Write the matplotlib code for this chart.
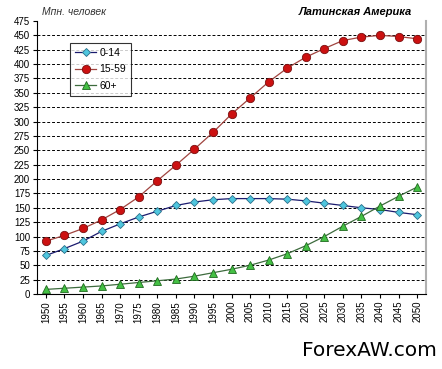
import numpy as np
import matplotlib.pyplot as plt

years = list(range(1950, 2051, 5))
kids = [67, 79, 92, 109, 122, 134, 144, 154, 160, 164, 166, 166, 166, 165, 162, 158, 154, 150, 147, 142, 138]
adults = [92, 102, 114, 129, 147, 169, 197, 224, 252, 281, 313, 341, 369, 393, 412, 427, 441, 447, 450, 448, 444]
elderly = [8, 10, 12, 14, 17, 20, 23, 26, 31, 37, 43, 50, 59, 70, 84, 100, 118, 135, 153, 170, 186]
yticks = list(range(0, 476, 25))

plt.rcParams['font.family'] = ['Liberation Sans', 'DejaVu Sans']
fig = plt.figure(figsize=(4.42, 3.69), dpi=100)
ax = fig.add_axes([37/442, 75/369, 389/442, 273/369])

ax.plot(years, kids, color='#1a1a6e', lw=0.9, marker='D', ms=4.5,
        mfc='#4fc6de', mec='#2a6f8a', mew=0.6, label='0-14')
ax.plot(years, adults, color='#a0443f', lw=0.9, marker='o', ms=6,
        mfc='#cc1111', mec='#7a1010', mew=0.6, label='15-59')
ax.plot(years, elderly, color='#3d6b3d', lw=0.9, marker='^', ms=5.5,
        mfc='#44c044', mec='#1f6a1f', mew=0.6, label='60+')

ax.set_xlim(1947.6, 2052.4)
ax.set_ylim(0, 475)
ax.set_yticks(yticks)
ax.set_xticks(years)
ax.set_xticklabels([str(y) for y in years], rotation=90)
ax.tick_params(labelsize=7, length=3, width=0.8, pad=2)
for y in yticks[1:-1]:
    ax.axhline(y, color='black', lw=0.7, ls=(0, (3, 2)), zorder=0)
ax.spines['top'].set_visible(False)
ax.spines['right'].set_color('#b0b0b0')
ax.spines['right'].set_linewidth(1.5)

leg = ax.legend(loc='upper left', bbox_to_anchor=(0.085, 0.92), fontsize=7.5,
                frameon=True, fancybox=False, handlelength=2.0,
                borderpad=0.5, labelspacing=0.6, handletextpad=0.3,
                borderaxespad=0)
leg.get_frame().set_edgecolor('black')
leg.get_frame().set_linewidth(0.8)

fig.text(42/442, 1 - 12/369, 'Мпн. человек', fontsize=7.5, style='italic',
         color='#333333', va='center')
fig.text(412/442, 1 - 12/369, 'Латинская Америка', fontsize=8, style='italic',
         weight='bold', ha='right', va='center')
fig.text(437/442, 1 - 351/369, 'ForexAW.com', fontsize=14.5, ha='right',
         va='center', family='DejaVu Sans')

fig.savefig('out.png', dpi=100)
